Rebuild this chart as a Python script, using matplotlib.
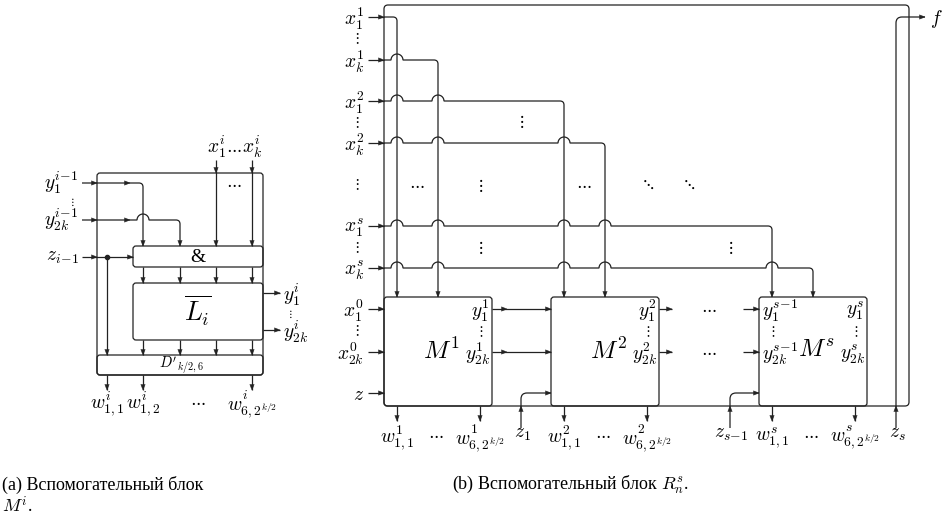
import numpy as np
import matplotlib.pyplot as plt
from matplotlib.path import Path
from matplotlib.patches import PathPatch, FancyBboxPatch, Polygon

plt.rcParams['mathtext.fontset'] = 'cm'
plt.rcParams['font.family'] = ['Liberation Serif', 'DejaVu Serif']

# labels of block (a)
a_in_labels = [r'$y_1^{i\!-\!1}$', r'$y_{2k}^{i\!-\!1}$', r'$z_{i\!-\!1}$']
a_x_labels = [r'$x_1^i$', r'$x_k^i$']
a_out_labels = [r'$y_1^i$', r'$y_{2k}^i$']
a_w_labels = [r'$w_{1,1}^i$', r'$w_{1,2}^i$', r'$w_{6,2^{k/2}}^i$']

# labels of block (b)
b_row_labels = [r'$x_1^1$', r'$x_k^1$', r'$x_1^2$', r'$x_k^2$', r'$x_1^s$', r'$x_k^s$']
b_loc_labels = [r'$x_1^0$', r'$x_{2k}^0$', r'$z$']
b_blocks = ['1', '2', 's']
b_prev = ['', '', r's\!-\!1']
b_z_labels = [r'$z_1$', r'$z_{s\!-\!1}$', r'$z_s$']

LW = 0.9
C = '#222222'
FS = 14

fig = plt.figure(figsize=(9.45, 5.29), dpi=100)
ax = fig.add_axes([0, 0, 1, 1])
ax.set_xlim(0, 945)
ax.set_ylim(529, 0)
ax.axis('off')


def wire(pts, hops=(), r=4, hr=6):
    x0, y0 = pts[0]
    verts = [pts[0]]
    codes = [Path.MOVETO]
    for h in sorted(hops):
        verts.append((h - hr, y0))
        codes.append(Path.LINETO)
        for t in np.linspace(np.pi, 0, 13)[1:]:
            verts.append((h + hr * np.cos(t), y0 - hr * np.sin(t)))
            codes.append(Path.LINETO)
    for i in range(1, len(pts) - 1):
        p0, p1, p2 = map(np.array, pts[i - 1:i + 2])
        d1 = (p1 - p0) / np.linalg.norm(p1 - p0)
        d2 = (p2 - p1) / np.linalg.norm(p2 - p1)
        verts += [tuple(p1 - d1 * r), tuple(p1), tuple(p1 + d2 * r)]
        codes += [Path.LINETO, Path.CURVE3, Path.CURVE3]
    verts.append(pts[-1])
    codes.append(Path.LINETO)
    ax.add_patch(PathPatch(Path(verts, codes), fill=False, lw=LW, ec=C))


def head(x, y, d, s=5.5, w=2.2):
    dx, dy = {'r': (1, 0), 'l': (-1, 0), 'd': (0, 1), 'u': (0, -1)}[d]
    px, py = -dy, dx
    pts = [(x, y), (x - dx * s + px * w, y - dy * s + py * w),
           (x - dx * s - px * w, y - dy * s - py * w)]
    ax.add_patch(Polygon(pts, closed=True, fc=C, ec=C, lw=0.3))


def box(x0, y0, x1, y1, r=3):
    ax.add_patch(FancyBboxPatch((x0, y0), x1 - x0, y1 - y0,
                                boxstyle='round,pad=0,rounding_size=%g' % r,
                                fill=False, lw=LW, ec=C))


def txt(x, y, s, fs=FS, ha='center', **kw):
    ax.text(x, y, s, fontsize=fs, ha=ha, va='center', **kw)


# ---------------- (a) ----------------
aL, aT, aR = 97, 173, 263
and_box = (133, 246, 263, 267)
l_box = (133, 283, 263, 340)
d_box = (97, 355, 263, 375)
a_cols = [143, 180, 216, 252]
a_rows = [183, 220, 257]
z_tap = 107

box(aL, aT, aR, d_box[3], r=3)
box(*and_box)
box(*l_box)
box(*d_box)
txt(198, 257, '&', fs=14)
txt(198, 311, r'$\overline{L_i}$', fs=19)
txt(182, 365, r"$D'_{k/2,6}$", fs=10.5)

for k, (y, lab) in enumerate(zip(a_rows, a_in_labels)):
    txt(79, y, lab, ha='right')
    if k < 2:
        wire([(82, y), (a_cols[k], y), (a_cols[k], and_box[1])], hops=a_cols[:k])
        head(a_cols[k], and_box[1], 'd')
        head(130, y, 'r')
    else:
        wire([(82, y), (and_box[0], y)])
        head(and_box[0], y, 'r')
    head(aL, y, 'r')
txt(72, 202, r'$\vdots$', fs=8)

ax.plot([z_tap], [a_rows[2]], 'o', ms=3, color=C)
wire([(z_tap, a_rows[2]), (z_tap, d_box[1])])
head(z_tap, d_box[1], 'd')

for c, lab in zip(a_cols[2:], a_x_labels):
    txt(c, 147, lab)
    wire([(c, 160), (c, and_box[1])])
    head(c, aT, 'd')
    head(c, and_box[1], 'd')
txt(234, 149, r'$\cdots$', fs=12)
txt(234, 184, r'$\cdots$', fs=12)

for c in a_cols:
    wire([(c, and_box[3]), (c, l_box[1])])
    head(c, l_box[1], 'd')
    wire([(c, l_box[3]), (c, d_box[1])])
    head(c, d_box[1], 'd')

for y, lab in zip([293, 330], a_out_labels):
    wire([(aR, y), (280, y)])
    head(280, y, 'r')
    txt(283, y + 2, lab, ha='left')
txt(290, 314, r'$\vdots$', fs=8)

for c, lab in zip([z_tap, a_cols[0], a_cols[3]], a_w_labels):
    wire([(c, d_box[3]), (c, 390)])
    head(c, 390, 'd')
    txt(c, 404, lab)
txt(198, 402, r'$\cdots$', fs=12)

# ---------------- (b) ----------------
bL, bT, bR, bB = 384, 5, 909, 406
row_y = [17, 60, 101, 143, 226, 268]
loc_y = [309, 352, 393]
blk_x = [384, 551, 759]
BW, BT = 108, 297
cols = [c for bx in blk_x for c in (bx + 13, bx + 54)]

box(bL, bT, bR, bB, r=4)
for bx in blk_x:
    box(bx, BT, bx + BW, bB, r=3)

for i, (y, lab) in enumerate(zip(row_y, b_row_labels)):
    txt(364, y + 2, lab, ha='right')
    wire([(368, y), (bL, y)])
    head(bL, y, 'r')
    wire([(bL, y), (cols[i], y), (cols[i], BT)], hops=cols[:i])
    head(cols[i], BT, 'd')

for y, lab in zip(loc_y, b_loc_labels):
    txt(364, y + 2, lab, ha='right')
    wire([(368, y), (bL, y)])
    head(bL, y, 'r')

for y in [39, 123, 185, 248, 331]:
    txt(356, y, r'$\vdots$', fs=10.5)

txt(521, 122, r'$\vdots$', fs=12)
txt(417, 185, r'$\cdots$', fs=12)
txt(480, 185, r'$\vdots$', fs=12)
txt(584, 185, r'$\cdots$', fs=12)
txt(647, 185, r'$\ddots$', fs=12)
txt(688, 185, r'$\ddots$', fs=12)
txt(480, 247, r'$\vdots$', fs=12)
txt(730, 247, r'$\vdots$', fs=12)

# inside blocks
for j, (bx, b) in enumerate(zip(blk_x, b_blocks)):
    c_out = bx + 96
    txt(c_out, 311, r'$y_1^{%s}$' % b)
    txt(c_out, 332, r'$\vdots$', fs=10)
    txt(c_out - 2, 354, r'$y_{2k}^{%s}$' % b)
    txt(bx + 57, 351, r'$M^{%s}$' % b, fs=18)
    if b_prev[j]:
        txt(bx + 3, 311, r'$y_1^{%s}$' % b_prev[j], ha='left')
        txt(bx + 13, 332, r'$\vdots$', fs=10)
        txt(bx + 3, 354, r'$y_{2k}^{%s}$' % b_prev[j], ha='left')
    # outputs w
    for c, sub in [(bx + 13, '1,1'), (c_out, '6,2^{k/2}')]:
        wire([(c, bB), (c, 421)])
        head(c, 421, 'd')
        txt(c, 438, r'$w_{%s}^{%s}$' % (sub, b))
    txt(bx + 52, 435, r'$\cdots$', fs=12)

# links between blocks
for y in loc_y[:2]:
    wire([(blk_x[0] + BW, y), (blk_x[1], y)])
    head(507, y, 'r')
    head(blk_x[1], y, 'r')
    wire([(blk_x[1] + BW, y), (672, y)])
    head(672, y, 'r')
    txt(709, y, r'$\cdots$', fs=12)
    wire([(743, y), (blk_x[2], y)])
    head(blk_x[2], y, 'r')

# carry inputs z
for zx, bx, lab in zip([521, 730], blk_x[1:], b_z_labels[:2]):
    wire([(zx, 428), (zx, loc_y[2]), (bx, loc_y[2])], r=6)
    head(zx, bB, 'u')
    head(bx, loc_y[2], 'r')
    txt(zx + 1, 434, lab)

wire([(896, 428), (896, row_y[0]), (925, row_y[0])], r=6)
head(896, bB, 'u')
head(925, row_y[0], 'r')
txt(897, 434, b_z_labels[2])
txt(936, row_y[0] + 2, r'$f$', fs=FS)

# captions
ax.text(2, 485, '(a) Вспомогательный блок', fontsize=13, va='center')
ax.text(2, 506, r'$M^i$.', fontsize=13, va='center')
ax.text(452, 485, '(b) Вспомогательный блок $R^s_n$.', fontsize=13, va='center')

fig.savefig('out.png', dpi=100)
